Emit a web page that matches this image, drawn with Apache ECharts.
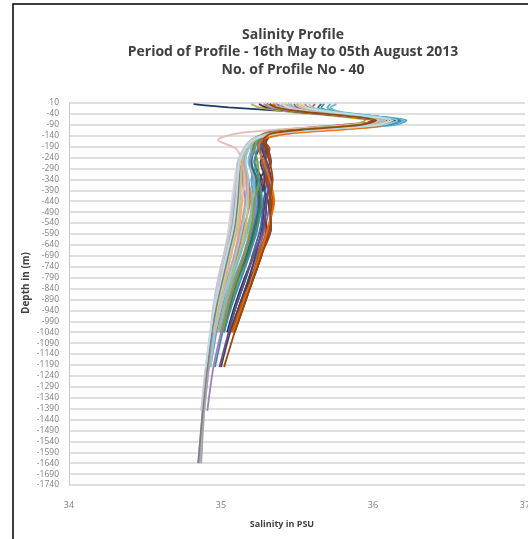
<!DOCTYPE html>
<html>
<head>
<meta charset="utf-8">
<script src="https://cdn.jsdelivr.net/npm/echarts@6/dist/echarts.min.js"></script>
<style>
  html, body { margin: 0; padding: 0; background: #fff; }
  #chart { width: 528px; height: 539px; }
</style>
</head>
<body>
<div id="chart"></div>
<script>
// Depth levels (m) shared by all profiles; shallower profiles stop early.
const depthLevels = [5, -10, -30, -50, -70, -90, -110, -130, -160, -200, -260, -340, -440, -560, -680, -800, -920, -1040, -1200, -1400, -1640];

// Salinity (PSU) per profile, one value per depth level from the surface down.
const p01 = [34.82, 35.05, 35.50, 35.95, 36.18, 36.05, 35.60, 35.35, 35.28, 35.25, 35.22, 35.27, 35.30, 35.28, 35.22, 35.15, 35.09, 35.04];
const p02 = [35.30, 35.35, 35.50, 35.85, 36.10, 35.95, 35.55, 35.30, 35.22, 35.20, 35.19, 35.22, 35.24, 35.21, 35.16, 35.10, 35.05, 35.01, 34.96];
const p03 = [35.62, 35.60, 35.66, 35.90, 36.05, 35.80, 35.45, 35.28, 35.25, 35.27, 35.30, 35.28, 35.26, 35.30, 35.25, 35.20, 35.14, 35.08];
const p04 = [35.20, 35.25, 35.45, 35.75, 35.95, 35.85, 35.50, 35.30, 35.20, 35.17, 35.16, 35.18, 35.20, 35.19, 35.15, 35.08, 35.03, 34.99];
const p05 = [35.50, 35.52, 35.65, 35.95, 36.20, 36.10, 35.70, 35.35, 35.28, 35.30, 35.28, 35.30, 35.32, 35.29, 35.24, 35.18, 35.12, 35.07];
const p06 = [35.72, 35.70, 35.76, 36.00, 36.22, 36.15, 35.75, 35.40, 35.27, 35.22, 35.24, 35.20, 35.22, 35.24, 35.18, 35.12, 35.06, 35.02];
const p07 = [35.35, 35.40, 35.55, 35.80, 36.00, 36.10, 35.85, 35.45, 35.25, 35.16, 35.14, 35.17, 35.21, 35.17, 35.12, 35.07, 35.02, 34.98];
const p08 = [35.40, 35.42, 35.60, 35.90, 36.12, 36.00, 35.62, 35.32, 35.30, 35.29, 35.32, 35.26, 35.31, 35.33, 35.26, 35.19, 35.12, 35.06];
const p09 = [35.25, 35.30, 35.50, 35.80, 36.00, 35.90, 35.55, 35.30, 35.26, 35.30, 35.26, 35.29, 35.25, 35.30, 35.27, 35.21, 35.15, 35.09];
const p10 = [35.45, 35.47, 35.62, 35.88, 36.08, 35.95, 35.58, 35.30, 35.23, 35.21, 35.20, 35.24, 35.26, 35.23, 35.18, 35.11, 35.06, 35.02];
const p11 = [35.30, 35.35, 35.55, 35.85, 36.15, 36.05, 35.65, 35.35, 35.30, 35.27, 35.30, 35.33, 35.29, 35.27, 35.23, 35.18, 35.12, 35.06, 35.00];
const p12 = [35.66, 35.64, 35.70, 35.98, 36.18, 36.08, 35.68, 35.33, 35.24, 35.22, 35.20, 35.23, 35.25, 35.22, 35.17, 35.10, 35.05, 35.00];
const p13 = [35.38, 35.40, 35.58, 35.86, 36.02, 35.92, 35.60, 35.34, 35.28, 35.32, 35.29, 35.31, 35.34, 35.31, 35.25, 35.20, 35.13, 35.07];
const p14 = [35.42, 35.45, 35.60, 35.85, 36.05, 35.98, 35.65, 35.36, 35.22, 35.18, 35.15, 35.14, 35.16, 35.14, 35.10, 35.05, 35.00, 34.97, 34.93];
const p15 = [35.55, 35.58, 35.72, 35.95, 36.12, 36.00, 35.60, 35.30, 35.20, 35.16, 35.15, 35.18, 35.19, 35.15, 35.11, 35.06, 35.01, 34.97];
const p16 = [35.48, 35.50, 35.66, 35.92, 36.10, 36.02, 35.70, 35.38, 35.21, 35.17, 35.14, 35.16, 35.18, 35.16, 35.12, 35.06, 35.02, 34.98];
const p17 = [35.28, 35.32, 35.52, 35.82, 36.05, 35.96, 35.60, 35.32, 35.24, 35.22, 35.19, 35.21, 35.23, 35.20, 35.15, 35.09, 35.04, 35.00, 34.95, 34.91];
const p18 = [35.76, 35.72, 35.78, 36.02, 36.20, 36.12, 35.72, 35.36, 35.22, 35.20, 35.18, 35.22, 35.21, 35.18, 35.13, 35.07, 35.02, 34.98];
const p19 = [35.52, 35.55, 35.68, 35.92, 36.08, 36.05, 35.78, 35.42, 35.23, 35.18, 35.15, 35.15, 35.14, 35.12, 35.09, 35.04, 35.00, 34.96];
const p20 = [35.45, 35.48, 35.62, 35.88, 36.06, 35.85, 35.40, 35.10, 34.98, 35.10, 35.14, 35.16, 35.13, 35.10, 35.06, 35.02, 34.98, 34.95, 34.92];
const p21 = [35.36, 35.40, 35.58, 35.88, 36.10, 36.00, 35.64, 35.34, 35.27, 35.26, 35.27, 35.30, 35.28, 35.26, 35.21, 35.16, 35.10, 35.05];
const p22 = [35.32, 35.36, 35.54, 35.84, 36.04, 35.94, 35.58, 35.32, 35.29, 35.31, 35.33, 35.30, 35.33, 35.32, 35.27, 35.21, 35.14, 35.08];
const p23 = [35.40, 35.42, 35.58, 35.85, 36.02, 35.90, 35.55, 35.30, 35.24, 35.22, 35.24, 35.25, 35.22, 35.20, 35.16, 35.10, 35.05, 35.01];
const p24 = [35.44, 35.46, 35.62, 35.90, 36.10, 36.00, 35.62, 35.33, 35.27, 35.28, 35.30, 35.32, 35.30, 35.28, 35.22, 35.16, 35.10, 35.05, 34.99];
const p25 = [35.68, 35.66, 35.74, 36.00, 36.18, 36.10, 35.70, 35.34, 35.25, 35.24, 35.22, 35.25, 35.27, 35.24, 35.19, 35.13, 35.07, 35.02];
const p26 = [35.34, 35.38, 35.56, 35.86, 36.04, 36.06, 35.80, 35.44, 35.27, 35.25, 35.28, 35.32, 35.35, 35.31, 35.26, 35.20, 35.14, 35.08];
const p27 = [35.46, 35.48, 35.62, 35.88, 36.06, 35.98, 35.66, 35.35, 35.20, 35.16, 35.13, 35.12, 35.12, 35.10, 35.07, 35.02, 34.98, 34.95, 34.92, 34.89];
const p28 = [35.50, 35.52, 35.66, 35.92, 36.08, 35.98, 35.62, 35.32, 35.22, 35.18, 35.15, 35.17, 35.16, 35.13, 35.09, 35.04, 35.00, 34.96, 34.93];
const p29 = [35.42, 35.44, 35.60, 35.86, 36.04, 35.95, 35.60, 35.33, 35.21, 35.16, 35.13, 35.13, 35.12, 35.10, 35.06, 35.02, 34.98, 34.95];
const p30 = [35.38, 35.40, 35.58, 35.86, 36.06, 35.97, 35.62, 35.34, 35.20, 35.15, 35.12, 35.11, 35.10, 35.08, 35.05, 35.01, 34.97, 34.94, 34.91, 34.88, 34.86];
const p31 = [35.58, 35.60, 35.74, 36.00, 36.16, 36.06, 35.68, 35.34, 35.22, 35.18, 35.16, 35.18, 35.17, 35.14, 35.10, 35.05, 35.00, 34.96, 34.93];
const p32 = [35.52, 35.54, 35.68, 35.94, 36.10, 36.04, 35.72, 35.38, 35.21, 35.16, 35.13, 35.12, 35.11, 35.08, 35.05, 35.01, 34.97, 34.94];
const p33 = [35.30, 35.34, 35.54, 35.84, 36.04, 35.94, 35.60, 35.32, 35.20, 35.15, 35.12, 35.10, 35.09, 35.07, 35.04, 35.00, 34.97, 34.94, 34.92, 34.89, 34.87];
const p34 = [35.36, 35.38, 35.56, 35.86, 36.06, 35.96, 35.62, 35.34, 35.21, 35.16, 35.12, 35.10, 35.08, 35.06, 35.03, 34.99, 34.96, 34.93, 34.91, 34.88, 34.85];
const p35 = [35.40, 35.44, 35.60, 35.88, 36.08, 35.98, 35.64, 35.34, 35.20, 35.15, 35.11, 35.09, 35.07, 35.05, 35.02, 34.98, 34.95, 34.93, 34.90, 34.87];
const p36 = [35.48, 35.50, 35.64, 35.90, 36.08, 35.98, 35.62, 35.32, 35.21, 35.17, 35.14, 35.12, 35.11, 35.09, 35.05, 35.01, 34.97, 34.94, 34.91, 34.88, 34.85];
const p37 = [35.44, 35.46, 35.60, 35.86, 36.04, 35.96, 35.62, 35.33, 35.20, 35.15, 35.11, 35.10, 35.08, 35.06, 35.02, 34.98, 34.95, 34.93, 34.90, 34.87];
const p38 = [35.50, 35.52, 35.66, 35.92, 36.08, 36.00, 35.66, 35.34, 35.22, 35.17, 35.14, 35.13, 35.13, 35.11, 35.07, 35.03, 34.99, 34.95];
const p39 = [35.54, 35.56, 35.70, 35.96, 36.12, 36.02, 35.66, 35.33, 35.21, 35.16, 35.12, 35.11, 35.10, 35.08, 35.04, 35.00, 34.96, 34.93, 34.90];
const p40 = [35.32, 35.36, 35.54, 35.84, 36.02, 35.92, 35.58, 35.33, 35.28, 35.30, 35.32, 35.34, 35.32, 35.33, 35.27, 35.21, 35.15, 35.09, 35.02];

const profiles = [p01, p02, p03, p04, p05, p06, p07, p08, p09, p10,
                  p11, p12, p13, p14, p15, p16, p17, p18, p19, p20,
                  p21, p22, p23, p24, p25, p26, p27, p28, p29, p30,
                  p31, p32, p33, p34, p35, p36, p37, p38, p39, p40];

// Line colours, one per profile (office-style palette and its shades).
const profileColors = [
  '#1F3864', '#4F81BD', '#C0504D', '#9BBB59', '#8064A2', '#4BACC6', '#F79646', '#2C4D75',
  '#772C2A', '#5F7530', '#4D3B62', '#276A7C', '#B65708', '#729ACA', '#CD7371', '#AFC97A',
  '#9983B5', '#6FBDD1', '#F9AB6B', '#E6B9B8', '#3A679C', '#9F3B38', '#7E9D40', '#664F83',
  '#3A8EA5', '#E46C0A', '#95B3D7', '#D99694', '#C3D69B', '#B3A2C7', '#93CDDD', '#FAC090',
  '#A6A6A6', '#BFBFBF', '#D9D9D9', '#7F7F7F', '#CCC1DA', '#C4BD97', '#B7DEE8', '#984807'
];

const titleLines = ['Salinity Profile', 'Period of Profile - 16th May to 05th August 2013', 'No. of Profile No - 40'];

const series = profiles.map((vals, i) => ({
  type: 'line',
  name: 'Profile ' + (i + 1),
  data: vals.map((s, k) => [s, depthLevels[k]]),
  showSymbol: false,
  smooth: 0.3,
  lineStyle: { width: 1.8, color: profileColors[i] },
  itemStyle: { color: profileColors[i] },
  animation: false
}));

const chart = echarts.init(document.getElementById('chart'), null, { renderer: 'canvas' });
chart.setOption({
  backgroundColor: '#ffffff',
  animation: false,
  title: {
    text: titleLines.join('\n'),
    left: 288,
    top: 21,
    textAlign: 'center',
    textStyle: { fontFamily: 'Open Sans', fontSize: 14, fontWeight: 'bold', color: '#404040', lineHeight: 17.5 }
  },
  graphic: [{
    type: 'rect',
    shape: { x: 13, y: 4, width: 600, height: 600 },
    style: { fill: 'none', stroke: '#000', lineWidth: 1.5 },
    silent: true
  }],
  grid: { left: 69, right: 3, top: 103, bottom: 54, containLabel: false, outerBoundsMode: 'none' },
  xAxis: {
    type: 'value',
    min: 34, max: 37, interval: 1,
    name: 'Salinity in PSU',
    nameLocation: 'middle',
    nameGap: 35,
    nameTextStyle: { fontFamily: 'Open Sans', fontSize: 9, fontWeight: 'bold', color: '#404040', padding: [0, 30, 0, 0] },
    axisLine: { show: false },
    axisTick: { show: false },
    splitLine: { show: false },
    axisLabel: { fontFamily: 'Open Sans', fontSize: 9, color: '#808080', margin: 16 }
  },
  yAxis: {
    type: 'value',
    min: -1740, max: 10, interval: 50,
    name: 'Depth in (m)',
    nameLocation: 'middle',
    nameGap: 38,
    nameMoveOverlap: false,
    nameRotate: 90,
    nameTextStyle: { fontFamily: 'Open Sans', fontSize: 10, fontWeight: 'bold', color: '#404040', padding: [0, 0, 0, 22] },
    axisLine: { show: true, lineStyle: { color: '#c8c8c8' } },
    axisTick: { show: false },
    splitLine: { show: true, lineStyle: { color: '#d4d4d4', width: 1.5 } },
    axisLabel: {
      fontFamily: 'Open Sans', fontSize: 8.5, color: '#808080', margin: 10,
      formatter: (v) => String(v)
    }
  },
  series: series
});
</script>
</body>
</html>
